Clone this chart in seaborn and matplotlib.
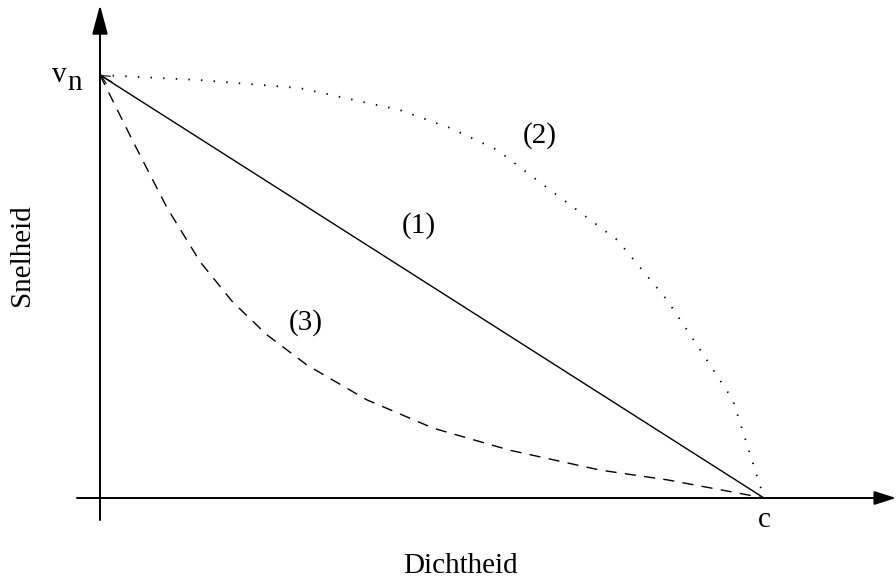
import numpy as np
import pandas as pd
import matplotlib
matplotlib.use("Agg")
import matplotlib.pyplot as plt
import seaborn as sns

# Curves (x = density fraction of c, y = speed fraction of v_n)
lin_x = [0.0, 1.0]
lin_y = [1.0, 0.0]

conc_x = [0.0, 0.151, 0.301, 0.452, 0.527, 0.598, 0.678, 0.779, 0.854, 0.904, 0.953, 1.0]
conc_y = [1.0, 0.988, 0.969, 0.917, 0.875, 0.823, 0.728, 0.610, 0.468, 0.350, 0.232, 0.0]

conv_x = [0.0, 0.050, 0.101, 0.151, 0.200, 0.252, 0.312, 0.402, 0.502, 0.617, 0.753, 0.854, 0.953, 1.0]
conv_y = [1.0, 0.842, 0.686, 0.558, 0.463, 0.385, 0.314, 0.232, 0.165, 0.113, 0.066, 0.043, 0.014, 0.0]

curve_labels = ["(1)", "(2)", "(3)"]

# pixel layout of the reference
W, H = 896, 579
X0, Y0 = 100, 498      # origin
X1, Y1 = 764, 75       # x = c, y = v_n


def px(x, y):
    return (x - X0) / (X1 - X0), (Y0 - y) / (Y0 - Y1)


sns.set_theme(style="white")
plt.rcParams["font.family"] = ["Liberation Serif", "DejaVu Serif"]
plt.rcParams["text.color"] = "black"

fig = plt.figure(figsize=(W / 100, H / 100), dpi=100)
ax = fig.add_axes([0, 0, 1, 1])
xl0, yl0 = px(0, H)
xl1, yl1 = px(W, 0)
ax.axis("off")

# axes with arrow heads
ax.annotate("", xy=px(896, Y0), xytext=px(77, Y0),
            arrowprops=dict(arrowstyle="-|>,head_length=1.1,head_width=0.35",
                            color="black", lw=1.4, shrinkA=0, shrinkB=0))
ax.annotate("", xy=px(X0, 5), xytext=px(X0, 520),
            arrowprops=dict(arrowstyle="-|>,head_length=1.5,head_width=0.4",
                            color="black", lw=1.4, shrinkA=0, shrinkB=0))

df1 = pd.DataFrame({"x": lin_x, "y": lin_y})
df2 = pd.DataFrame({"x": conc_x, "y": conc_y})
df3 = pd.DataFrame({"x": conv_x, "y": conv_y})

sns.lineplot(data=df1, x="x", y="y", ax=ax, color="black", lw=1.0,
             sort=False, estimator=None)
sns.lineplot(data=df2, x="x", y="y", ax=ax, color="black", lw=1.3,
             sort=False, estimator=None, linestyle=(0, (0.8, 6.2)))
sns.lineplot(data=df3, x="x", y="y", ax=ax, color="black", lw=1.0,
             sort=False, estimator=None, linestyle=(0, (8, 6)))
ax.set_xlim(xl0, xl1)
ax.set_ylim(yl0, yl1)

# small open arrow head at v_n
ax.annotate("", xy=(0, 1), xytext=px(112, 82),
            arrowprops=dict(arrowstyle="->,head_length=0.5,head_width=0.25",
                            color="black", lw=0.8, shrinkA=0, shrinkB=0))

fs = 21
ax.text(*px(540, 136), curve_labels[1], fontsize=fs, ha="center", va="center")
ax.text(*px(419, 226), curve_labels[0], fontsize=fs, ha="center", va="center")
ax.text(*px(306, 323), curve_labels[2], fontsize=fs, ha="center", va="center")

ax.text(*px(764, 527), "c", fontsize=fs, ha="center", va="baseline")
ax.text(*px(67, 82), "v", fontsize=fs, ha="right", va="baseline")
ax.text(*px(67, 90), "n", fontsize=fs, ha="left", va="baseline")

ax.text(*px(461, 573), "Dichtheid", fontsize=fs, ha="center", va="baseline")
ax.text(*px(22, 255), "Snelheid", fontsize=fs, ha="center", va="center",
        rotation=90)

fig.savefig("out.png", dpi=100)
